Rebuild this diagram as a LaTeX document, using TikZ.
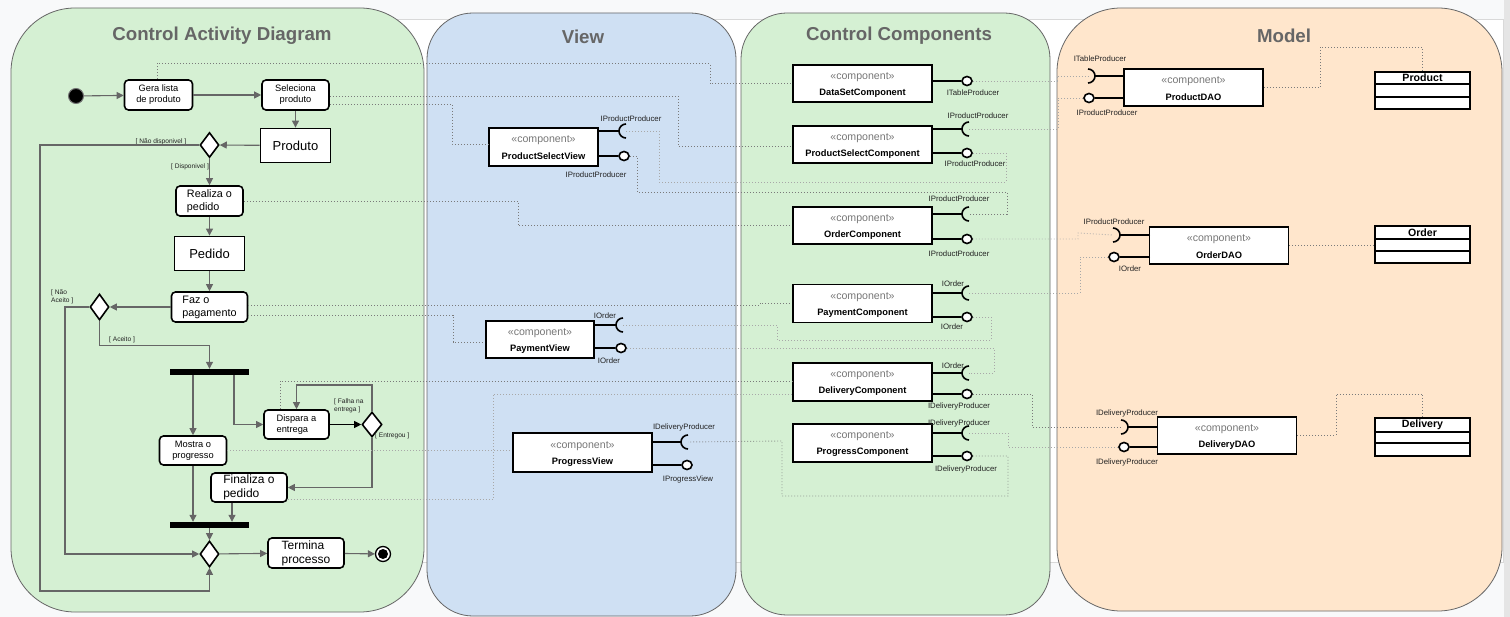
\documentclass[tikz,border=0pt]{standalone}
\usepackage{fontspec}
\setmainfont{Liberation Sans}
\usetikzlibrary{arrows.meta,shapes.geometric}
\definecolor{bgc}{HTML}{F8F9FA}
\definecolor{pgreen}{HTML}{D5F0D3}
\definecolor{pblue}{HTML}{CFE0F3}
\definecolor{ppeach}{HTML}{FFE6CC}
\definecolor{pborder}{HTML}{666666}
\definecolor{ttlc}{HTML}{666666}
\definecolor{flowc}{HTML}{666666}
\definecolor{depc}{HTML}{7A7A7A}
\definecolor{deplc}{HTML}{A8A8A8}
\definecolor{stc}{HTML}{777777}
\definecolor{labc}{HTML}{222222}
\newcommand{\fs}[2]{\fontsize{#1}{#2}\selectfont}
% component box: name, cx, cy, w, h, title
\newcommand{\compnode}[6]{%
  \node[compbox, minimum width=#4pt, minimum height=#5pt] (#1) at (#2,#3) {};
  \node[stereo] at (#2,#3-6.5) {«component»};
  \node[cname] at (#2,#3+9.5) {#6};}
% socket opening to the right: name, box edge x, arc centre x, y
\newcommand{\sockR}[4]{%
  \draw[port] (#2,#4) -- (#3-7,#4);
  \draw[port] (#3,#4+7) arc[start angle=90,end angle=270,radius=7];
  \coordinate (#1) at (#3,#4);}
% socket opening to the left: name, box edge x, arc centre x, y
\newcommand{\sockL}[4]{%
  \draw[port] (#2,#4) -- (#3+7,#4);
  \draw[port] (#3,#4-7) arc[start angle=-90,end angle=90,radius=7];
  \coordinate (#1) at (#3,#4);}
% lollipop: name, box edge x, centre x, y
\newcommand{\lolR}[4]{%
  \node[lolli] (#1) at (#3,#4) {};
  \draw[port] (#2,#4) -- (#1.west);}
\newcommand{\lolL}[4]{%
  \node[lolli] (#1) at (#3,#4) {};
  \draw[port] (#2,#4) -- (#1.east);}
% class box: name, x1, y1, ya, yb, x2, y2, title
\newcommand{\clsbox}[8]{%
  \draw[cls] (#2,#3) rectangle (#6,#7);
  \draw[cls] (#2,#4) -- (#6,#4);
  \draw[cls] (#2,#5) -- (#6,#5);
  \node[clsname] (#1) at ({(#2+#6)/2},{(#3+#4)/2}) {#8};
  \coordinate (#1-n) at ({(#2+#6)/2},#3);
  \coordinate (#1-w) at (#2,{(#3+#7)/2});}
\begin{document}
\begin{tikzpicture}[x=1pt,y=-1pt,
  panel/.style={draw=pborder, line width=0.8pt},
  ttl/.style={font=\fs{18.7}{22}\bfseries, text=ttlc, inner sep=0pt},
  act/.style={draw=black, fill=white, line width=1.6pt, rounded corners=4pt, inner sep=0pt, align=center},
  actl/.style={act, align=left},
  obj/.style={draw=black, fill=white, line width=1.8pt, inner sep=0pt, font=\fs{13}{15}},
  dec/.style={diamond, draw=black, fill=white, line width=1.6pt, inner sep=0pt},
  bar/.style={fill=black, inner sep=0pt, minimum width=79pt, minimum height=6pt},
  flow/.style={draw=flowc, line width=1.1pt, -{Triangle[width=7pt,length=7pt]}},
  guard/.style={font=\fs{6.6}{8}, text=labc, inner sep=0pt, align=left},
  compbox/.style={draw=black, fill=white, line width=1.8pt, inner sep=0pt},
  stereo/.style={font=\fs{10.6}{12}, text=stc, inner sep=0pt},
  cname/.style={font=\fs{9.3}{11}\bfseries, inner sep=0pt},
  ilab/.style={font=\fs{7.8}{9}, text=labc, inner sep=0pt},
  port/.style={draw=black, line width=1.6pt},
  lolli/.style={ellipse, draw=black, fill=white, line width=1.6pt, minimum width=10pt, minimum height=9pt, inner sep=0pt},
  dep/.style={draw=depc, line width=0.9pt, dash pattern=on 0.9pt off 2.1pt},
  depl/.style={dep, draw=deplc},
  cls/.style={draw=black, fill=white, line width=1.6pt},
  clsname/.style={font=\fs{10.6}{12}\bfseries, inner sep=0pt}]
\useasboundingbox (0,0) rectangle (1510,617);
\fill[bgc] (0,0) rectangle (1510,617);
\fill[black!10] (1504,0) rectangle (1510,617);
\draw[fill=white, draw=black!15, line width=0.8pt] (300,19.5) rectangle (1503,562);
% panels
\draw[panel, fill=pgreen, rounded corners=64pt] (11,8) rectangle (424,612);
\draw[panel, fill=pblue, rounded corners=46pt] (427,13) rectangle (736,616);
\draw[panel, fill=pgreen, rounded corners=46pt] (741,13) rectangle (1050,615);
\draw[panel, fill=ppeach, rounded corners=64pt] (1057,8) rectangle (1502,611);
\node[ttl] (t1) at (222,36) {Control Activity Diagram};
\node[ttl] (t2) at (583,37) {View};
\node[ttl] (t3) at (899,36) {Control Components};
\node[ttl] (t4) at (1284,36) {Model};

% ---------------- activity diagram ----------------
\node[circle, fill=black, draw=black!55, line width=1pt, minimum size=15pt, inner sep=0pt] (start) at (76,96) {};
\node[act, minimum width=68pt, minimum height=30pt, font=\fs{9.3}{11}] (gera) at (158.5,95) {Gera lista\\de produto};
\node[act, minimum width=67pt, minimum height=30pt, font=\fs{9.3}{11}] (sel) at (295.5,95) {Seleciona\\produto};
\node[obj, minimum width=70pt, minimum height=34pt] (produto) at (295.5,145.5) {Produto};
\node[dec, minimum width=19pt, minimum height=25pt] (d1) at (209.5,145) {};
\node[actl, minimum width=67pt, minimum height=30pt, font=\fs{10.8}{13}] (realiza) at (209.5,201) {Realiza o\\pedido};
\node[obj, minimum width=70pt, minimum height=34pt] (pedido) at (209.5,253.5) {Pedido};
\node[actl, minimum width=76pt, minimum height=30pt, font=\fs{10.8}{13}] (faz) at (209.5,307) {Faz o\\pagamento};
\node[dec, minimum width=19pt, minimum height=26pt] (d2) at (99.5,307) {};
\node[bar] (fork1) at (209.5,372) {};
\node[act, minimum width=67pt, minimum height=29pt, font=\fs{9.3}{11}] (mostra) at (193,450.5) {Mostra o\\progresso};
\node[actl, minimum width=65pt, minimum height=29pt, font=\fs{9.3}{11}] (dispara) at (296.5,424.5) {Dispara a\\entrega};
\node[dec, minimum width=20pt, minimum height=25pt] (d3) at (372,424.5) {};
\node[actl, minimum width=76pt, minimum height=29pt, font=\fs{12}{14}] (finaliza) at (249,487.5) {Finaliza o\\pedido};
\node[bar] (join) at (209.5,525) {};
\node[dec, minimum width=19pt, minimum height=26pt] (d4) at (209.5,554) {};
\node[actl, minimum width=76pt, minimum height=30pt, font=\fs{12}{14}] (termina) at (306,553) {Termina\\processo};
\node[circle, draw=black, fill=white, line width=1.3pt, minimum size=15pt, inner sep=0pt] (endc) at (383,554) {};
\node[circle, fill=black, minimum size=10pt, inner sep=0pt] (endin) at (endc) {};

\node[guard, anchor=east] (g1) at (186.5,142) {[ Não disponivel ]};
\node[guard] (g2) at (190,166.5) {[ Disponivel ]};
\node[guard, anchor=west] (g3) at (51,296.5) {[ Não\\Aceito ]};
\node[guard, anchor=west] (g4) at (109,339.5) {[ Aceito ]};
\node[guard, anchor=west] (g5) at (334,406) {[ Falha na\\entrega ]};
\node[guard, anchor=west] (g6) at (375,435.5) {[ Entregou ]};

\draw[flow] (start) -- (gera);
\draw[flow] (gera) -- (sel);
\draw[flow] (sel) -- (produto);
\draw[flow] (produto) -- (d1);
\draw[flow] (d1.west) -| (40,591) -| (d4.south);
\draw[flow] (d1) -- (realiza);
\draw[flow] (realiza) -- (pedido);
\draw[flow] (pedido) -- (faz);
\draw[flow] (faz) -- (d2);
\draw[flow] (d2.west) -| (65,554) -- (d4.west);
\draw[flow] (d2.south) |- (209.5,345.5) -- (fork1.north);
\draw[flow] (fork1.south -| mostra.north) -- (mostra.north);
\draw[flow] ([xshift=24.5pt]fork1.south) |- (dispara.west);
\draw[flow, draw=black] (dispara) -- (d3);
\draw[flow] (d3.north) -- (372,385) -| (dispara.north);
\draw[flow] (d3.south) |- (finaliza.east);
\draw[flow] (mostra.south) -- (mostra.south |- join.north);
\draw[flow] ([xshift=-17pt]finaliza.south) -- ([xshift=-17pt]finaliza.south |- join.north);
\draw[flow] (join) -- (d4);
\draw[flow] (d4) -- (termina);
\draw[flow] (termina) -- (endc);

% ---------------- view ----------------
\compnode{psv}{543.5}{147}{109}{38}{ProductSelectView}
\sockR{psvS}{598}{626}{131}
\lolR{psvL}{598}{624}{156}
\node[ilab] at (631,119) {IProductProducer};
\node[ilab] at (596,175) {IProductProducer};

\compnode{pv}{540}{339.5}{108}{37}{PaymentView}
\sockR{pvS}{594}{623}{325}
\lolR{pvL}{594}{621}{348}
\node[ilab] at (605,315.5) {IOrder};
\node[ilab] at (609,361) {IOrder};

\compnode{pgv}{582.5}{452.5}{139}{39}{ProgressView}
\sockR{pgvS}{652}{688}{442}
\lolR{pgvL}{652}{687}{465}
\node[ilab] at (684,427) {IDeliveryProducer};
\node[ilab] at (688,479) {IProgressView};

% ---------------- control components ----------------
\compnode{ds}{862.5}{83.5}{139}{37}{DataSetComponent}
\lolR{dsL}{932}{967}{81}
\node[ilab] at (973,93) {ITableProducer};

\compnode{psc}{862.5}{144.5}{139}{37}{ProductSelectComponent}
\sockR{pscS}{932}{969}{129}
\lolR{pscL}{932}{967}{153}
\node[ilab] at (978,116) {IProductProducer};
\node[ilab] at (975,164) {IProductProducer};

\compnode{oc}{862.5}{225.5}{139}{37}{OrderComponent}
\sockR{ocS}{932}{969}{214}
\lolR{ocL}{932}{967}{239}
\node[ilab] at (959,199) {IProductProducer};
\node[ilab] at (959,253.5) {IProductProducer};

\compnode{pc}{862.5}{303.5}{139}{38}{PaymentComponent}
\sockR{pcS}{932}{969}{293}
\lolR{pcL}{932}{967}{317}
\node[ilab] at (953,284) {IOrder};
\node[ilab] at (952,327) {IOrder};

\compnode{dc}{862.5}{382}{139}{38}{DeliveryComponent}
\sockR{dcS}{932}{969}{373}
\lolR{dcL}{932}{967}{394}
\node[ilab] at (953,366) {IOrder};
\node[ilab] at (959,406) {IDeliveryProducer};

\compnode{pgc}{862.5}{443}{139}{38}{ProgressComponent}
\sockR{pgcS}{932}{969}{433}
\lolR{pgcL}{932}{967}{456}
\node[ilab] at (959,423.5) {IDeliveryProducer};
\node[ilab] at (966,469) {IDeliveryProducer};

% ---------------- model ----------------
\compnode{pd}{1193.5}{87.5}{139}{37}{ProductDAO}
\sockL{pdS}{1124}{1088}{76}
\lolL{pdL}{1124}{1089}{98}
\node[ilab] at (1100,58.5) {ITableProducer};
\node[ilab] at (1107,112.5) {IProductProducer};

\compnode{od}{1219}{245.5}{139}{37}{OrderDAO}
\sockL{odS}{1150}{1113}{235}
\lolL{odL}{1150}{1114}{257}
\node[ilab] at (1114,222) {IProductProducer};
\node[ilab] at (1130,268.5) {IOrder};

\compnode{dd}{1227}{435.5}{139}{37}{DeliveryDAO}
\sockL{ddS}{1158}{1121}{427}
\lolL{ddL}{1158}{1124}{447}
\node[ilab] at (1127,413.5) {IDeliveryProducer};
\node[ilab] at (1127,462) {IDeliveryProducer};

\clsbox{prodC}{1375}{72}{84}{97}{1470}{109}{Product}
\clsbox{ordC}{1375}{226}{239}{251}{1470}{263}{Order}
\clsbox{delC}{1375}{418}{432}{443}{1470}{456}{Delivery}

% ---------------- dependencies (dotted) ----------------
\draw[dep] ([xshift=-1.5pt]gera.north) |- (710,63.5) |- (ds.west);
\draw[dep] ([yshift=-1.5pt]sel.east) -| (678,146.5) -- ([yshift=-2pt]psc.west);
\draw[dep] ([yshift=-9pt]sel.east) -| (452,144) -- ([yshift=3pt]psv.west);
\draw[depl] (psvS) -| (659,182) -| (1006,153) -- (pscL.east);
\draw[dep] (psvL.east) -| (637,192) -| (1007,214) -- (ocS);
\draw[dep] (realiza.east) -| (518,225.5) -- (oc.west);
\draw[depl] (ocL.east) -| (1078,233) -- (odS);
\draw[depl] (odL.west) -| (1080,293) -- (pcS);
\draw[dep] ([yshift=1.5pt]faz.east) -- (760,305.5) |- (pc.west);
\draw[dep] ([yshift=-8pt]faz.east) -| (453,342) -- ([yshift=-2.5pt]pv.west);
\draw[depl] (pvS) -| (777,340) -| (991,317) -- (pcL.east);
\draw[depl] (pvL.east) -| (994,373) -- (dcS);
\draw[dep] ([xshift=-16.5pt]dispara.north) |- ([yshift=1pt]dc.west);
\draw[depl] (mostra.east) -- (mostra.east -| pgv.west);
\draw[depl] ([yshift=-12pt]finaliza.east) -| (493,394) -- ([yshift=-12pt]dc.west);
\draw[dep] (dcL.east) -| (1032,427) -- (ddS);
\draw[depl] (pgcS) -| (1008,447) -- (ddL.west);
\draw[dep] (pgcL.east) -| (1008,496) -| (782,441) -- (pgvS);
\draw[depl] (dsL.east) -| (1057,76) -- (pdS);
\draw[depl] (pdL.west) -| (1058,129) -- (pscS);
\draw[dep] (pd.east) -| (1320,47) -| (prodC-n);
\draw[dep] (od.east) -- (od.east -| ordC-w);
\draw[dep] (dd.east) -| (1336,394) -| (delC-n);
\end{tikzpicture}
\end{document}
